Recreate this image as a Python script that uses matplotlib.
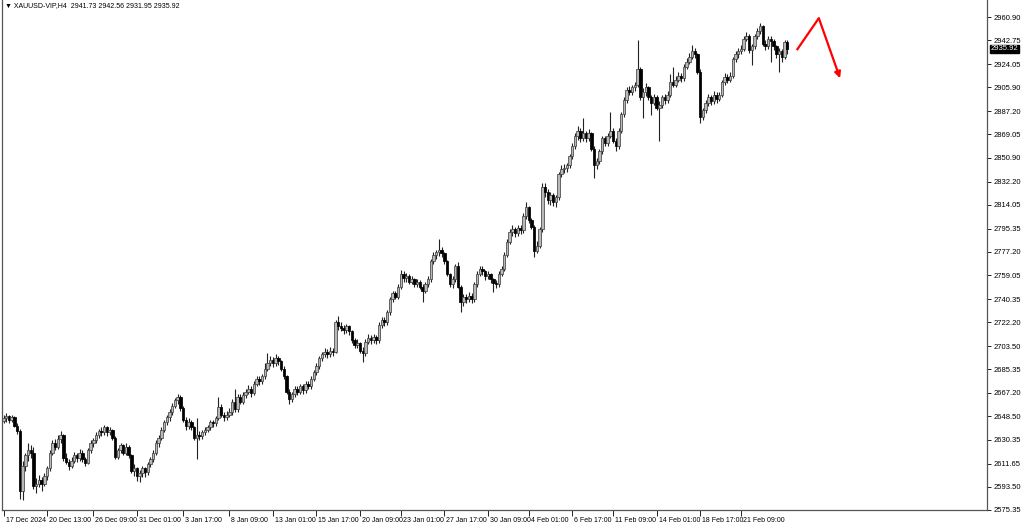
import matplotlib
matplotlib.use("Agg")
import matplotlib.pyplot as plt
import matplotlib.transforms as mtransforms

# XAUUSD H4 candles
opens = [
    2645, 2647, 2649, 2646, 2648, 2641, 2637, 2590, 2610, 2618,
    2622, 2620, 2594, 2596, 2599, 2596, 2602, 2608, 2620, 2628,
    2625, 2631, 2634, 2616, 2613, 2610, 2614, 2618, 2616, 2620,
    2615, 2612, 2622, 2628, 2630, 2634, 2637, 2636, 2640, 2636,
    2638, 2632, 2617, 2622, 2626, 2620, 2625, 2618, 2606, 2608,
    2602, 2604, 2608, 2605, 2611, 2615, 2620, 2628, 2632, 2638,
    2644, 2648, 2652, 2657, 2661, 2664, 2655, 2646, 2641, 2644,
    2640, 2632, 2634, 2633, 2636, 2638, 2640, 2644, 2643, 2647,
    2656, 2650, 2648, 2650, 2652, 2660, 2654, 2664, 2660, 2665,
    2668, 2670, 2667, 2674, 2678, 2676, 2680, 2686, 2690, 2693,
    2690, 2694, 2692, 2686, 2680, 2668, 2662, 2666, 2670, 2668,
    2672, 2669, 2674, 2672, 2678, 2683, 2688, 2694, 2697, 2699,
    2697, 2700, 2699, 2722, 2719, 2718, 2716, 2719, 2715, 2708,
    2704, 2706, 2700, 2698, 2707, 2710, 2708, 2711, 2708, 2720,
    2724, 2722, 2730, 2740, 2745, 2742, 2750, 2760, 2757, 2758,
    2754, 2756, 2752, 2754, 2750, 2747, 2752, 2756, 2770, 2775,
    2777, 2779, 2776, 2770, 2760, 2752, 2756, 2766, 2750, 2738,
    2742, 2740, 2743, 2740, 2752, 2760, 2764, 2762, 2758, 2760,
    2756, 2753, 2752, 2760, 2764, 2775, 2785, 2793, 2795, 2792,
    2796, 2794, 2805, 2812, 2802, 2797, 2778, 2782, 2795, 2828,
    2824, 2818, 2822, 2816, 2820, 2838, 2842, 2843, 2845, 2852,
    2860, 2868, 2872, 2866, 2870, 2866, 2870, 2858, 2845, 2848,
    2856, 2866, 2862, 2868, 2872, 2864, 2860, 2872, 2885, 2896,
    2904, 2902, 2906, 2908, 2920, 2898, 2902, 2906, 2898, 2894,
    2898, 2890, 2892, 2898, 2896, 2900, 2910, 2908, 2912, 2915,
    2913, 2922, 2926, 2930, 2934, 2932, 2918, 2883, 2888, 2894,
    2898, 2895, 2900, 2897, 2900, 2910, 2914, 2912, 2915, 2928,
    2932, 2934, 2936, 2944, 2946, 2935, 2938, 2946, 2950, 2954,
    2940, 2938, 2944, 2942, 2938, 2932, 2934, 2930, 2941.73,
]
highs = [
    2650, 2651, 2650, 2650, 2649, 2643, 2639, 2614, 2620, 2628,
    2626, 2625, 2600, 2603, 2601, 2604, 2610, 2622, 2630, 2631,
    2634, 2637, 2635, 2620, 2615, 2617, 2621, 2620, 2623, 2622,
    2617, 2624, 2630, 2632, 2636, 2639, 2640, 2642, 2641, 2640,
    2639, 2633, 2624, 2628, 2627, 2628, 2626, 2619, 2611, 2609,
    2607, 2610, 2609, 2613, 2617, 2622, 2630, 2634, 2640, 2646,
    2650, 2654, 2659, 2663, 2666, 2665, 2657, 2648, 2647, 2646,
    2641, 2647, 2637, 2638, 2640, 2642, 2646, 2646, 2649, 2664,
    2658, 2652, 2653, 2655, 2662, 2670, 2666, 2666, 2668, 2670,
    2673, 2672, 2676, 2680, 2680, 2682, 2690, 2698, 2696, 2695,
    2697, 2696, 2693, 2688, 2681, 2670, 2668, 2672, 2672, 2674,
    2674, 2676, 2676, 2680, 2685, 2690, 2696, 2699, 2702, 2701,
    2703, 2702, 2724, 2727, 2722, 2720, 2721, 2720, 2716, 2710,
    2709, 2707, 2703, 2709, 2713, 2712, 2713, 2712, 2722, 2726,
    2726, 2732, 2742, 2747, 2747, 2752, 2763, 2762, 2761, 2760,
    2758, 2757, 2756, 2755, 2752, 2754, 2758, 2772, 2777, 2779,
    2787, 2781, 2777, 2771, 2761, 2758, 2768, 2769, 2751, 2744,
    2744, 2746, 2745, 2754, 2762, 2766, 2766, 2763, 2762, 2761,
    2757, 2755, 2762, 2766, 2777, 2787, 2795, 2798, 2797, 2798,
    2798, 2808, 2816, 2813, 2804, 2798, 2786, 2797, 2831, 2831,
    2826, 2824, 2823, 2822, 2840, 2845, 2846, 2847, 2854, 2862,
    2870, 2876, 2874, 2882, 2872, 2873, 2871, 2860, 2851, 2858,
    2868, 2868, 2870, 2887, 2874, 2866, 2874, 2887, 2898, 2906,
    2907, 2908, 2910, 2943, 2922, 2905, 2909, 2907, 2900, 2901,
    2900, 2895, 2900, 2901, 2903, 2916, 2922, 2915, 2918, 2917,
    2924, 2929, 2933, 2939, 2937, 2933, 2920, 2890, 2896, 2901,
    2900, 2903, 2902, 2902, 2912, 2917, 2916, 2918, 2930, 2934,
    2937, 2939, 2946, 2949, 2948, 2940, 2948, 2952, 2956, 2955,
    2943, 2946, 2946, 2944, 2939, 2937, 2936, 2943, 2942.56,
]
lows = [
    2643, 2644, 2643, 2644, 2640, 2635, 2584, 2583, 2606, 2614,
    2616, 2592, 2589, 2593, 2590, 2594, 2599, 2606, 2618, 2622,
    2623, 2628, 2614, 2611, 2607, 2608, 2612, 2613, 2614, 2613,
    2610, 2611, 2620, 2625, 2628, 2632, 2633, 2634, 2633, 2634,
    2630, 2615, 2615, 2620, 2618, 2618, 2616, 2604, 2602, 2598,
    2597, 2601, 2601, 2603, 2609, 2613, 2618, 2625, 2630, 2636,
    2642, 2645, 2650, 2655, 2658, 2653, 2644, 2638, 2639, 2638,
    2630, 2615, 2630, 2631, 2634, 2636, 2638, 2640, 2641, 2646,
    2648, 2645, 2646, 2648, 2650, 2652, 2652, 2658, 2658, 2663,
    2666, 2664, 2665, 2672, 2673, 2674, 2678, 2684, 2688, 2687,
    2688, 2689, 2684, 2678, 2666, 2658, 2660, 2664, 2665, 2666,
    2666, 2667, 2670, 2670, 2676, 2681, 2686, 2692, 2695, 2694,
    2695, 2696, 2698, 2716, 2715, 2713, 2714, 2712, 2706, 2702,
    2702, 2698, 2691, 2696, 2705, 2705, 2706, 2705, 2706, 2718,
    2719, 2720, 2728, 2738, 2740, 2740, 2748, 2754, 2754, 2752,
    2752, 2750, 2750, 2748, 2738, 2745, 2750, 2754, 2768, 2772,
    2774, 2773, 2768, 2758, 2750, 2749, 2754, 2749, 2730, 2735,
    2737, 2738, 2737, 2738, 2750, 2758, 2759, 2755, 2756, 2753,
    2746, 2749, 2750, 2758, 2762, 2773, 2783, 2790, 2789, 2790,
    2791, 2792, 2803, 2800, 2795, 2773, 2776, 2780, 2793, 2820,
    2815, 2814, 2813, 2812, 2818, 2836, 2839, 2840, 2843, 2850,
    2858, 2865, 2863, 2864, 2863, 2864, 2856, 2835, 2842, 2846,
    2854, 2860, 2860, 2866, 2862, 2856, 2858, 2870, 2883, 2894,
    2900, 2900, 2903, 2906, 2896, 2882, 2899, 2896, 2884, 2892,
    2888, 2864, 2890, 2893, 2894, 2898, 2906, 2906, 2910, 2910,
    2911, 2920, 2924, 2928, 2929, 2916, 2878, 2880, 2886, 2891,
    2892, 2893, 2894, 2895, 2898, 2908, 2909, 2910, 2913, 2926,
    2929, 2932, 2934, 2942, 2933, 2923, 2936, 2944, 2948, 2938,
    2935, 2936, 2926, 2935, 2929, 2918, 2926, 2928, 2931.95,
]
closes = [
    2647, 2649, 2646, 2648, 2641, 2637, 2590, 2610, 2618, 2622,
    2620, 2594, 2596, 2599, 2596, 2602, 2608, 2620, 2628, 2625,
    2631, 2634, 2616, 2613, 2610, 2614, 2618, 2616, 2620, 2615,
    2612, 2622, 2628, 2630, 2634, 2637, 2636, 2640, 2636, 2638,
    2632, 2617, 2622, 2626, 2620, 2625, 2618, 2606, 2608, 2602,
    2604, 2608, 2605, 2611, 2615, 2620, 2628, 2632, 2638, 2644,
    2648, 2652, 2657, 2661, 2664, 2655, 2646, 2641, 2644, 2640,
    2632, 2634, 2633, 2636, 2638, 2640, 2644, 2643, 2647, 2656,
    2650, 2648, 2650, 2652, 2660, 2654, 2664, 2660, 2665, 2668,
    2670, 2667, 2674, 2678, 2676, 2680, 2686, 2690, 2693, 2690,
    2694, 2692, 2686, 2680, 2668, 2662, 2666, 2670, 2668, 2672,
    2669, 2674, 2672, 2678, 2683, 2688, 2694, 2697, 2699, 2697,
    2700, 2699, 2722, 2719, 2718, 2716, 2719, 2715, 2708, 2704,
    2706, 2700, 2698, 2707, 2710, 2708, 2711, 2708, 2720, 2724,
    2722, 2730, 2740, 2745, 2742, 2750, 2760, 2757, 2758, 2754,
    2756, 2752, 2754, 2750, 2747, 2752, 2756, 2770, 2775, 2777,
    2779, 2776, 2770, 2760, 2752, 2756, 2766, 2750, 2738, 2742,
    2740, 2743, 2740, 2752, 2760, 2764, 2762, 2758, 2760, 2756,
    2753, 2752, 2760, 2764, 2775, 2785, 2793, 2795, 2792, 2796,
    2794, 2805, 2812, 2802, 2797, 2778, 2782, 2795, 2828, 2824,
    2818, 2822, 2816, 2820, 2838, 2842, 2843, 2845, 2852, 2860,
    2868, 2872, 2866, 2870, 2866, 2870, 2858, 2845, 2848, 2856,
    2866, 2862, 2868, 2872, 2864, 2860, 2872, 2885, 2896, 2904,
    2902, 2906, 2908, 2920, 2898, 2902, 2906, 2898, 2894, 2898,
    2890, 2892, 2898, 2896, 2900, 2910, 2908, 2912, 2915, 2913,
    2922, 2926, 2930, 2934, 2932, 2918, 2883, 2888, 2894, 2898,
    2895, 2900, 2897, 2900, 2910, 2914, 2912, 2915, 2928, 2932,
    2934, 2936, 2944, 2946, 2935, 2938, 2946, 2950, 2954, 2940,
    2938, 2944, 2942, 2938, 2932, 2934, 2930, 2941.73, 2935.92,
]

price_ticks = [2960.90, 2942.75, 2924.05, 2905.90, 2887.20, 2869.05, 2850.90,
               2832.20, 2814.05, 2795.35, 2777.20, 2759.05, 2740.35, 2722.20,
               2703.50, 2685.35, 2667.20, 2648.50, 2630.35, 2611.65, 2593.50,
               2575.35]
time_ticks = [0, 16, 33, 49, 66, 83, 99, 115, 131, 146, 162, 178, 193, 209,
              224, 240, 256, 271]
time_labels = ["17 Dec 2024", "20 Dec 13:00", "26 Dec 09:00", "31 Dec 01:00",
               "3 Jan 17:00", "8 Jan 09:00", "13 Jan 01:00", "15 Jan 17:00",
               "20 Jan 09:00", "23 Jan 01:00", "27 Jan 17:00", "30 Jan 09:00",
               "4 Feb 01:00", "6 Feb 17:00", "11 Feb 09:00", "14 Feb 01:00",
               "18 Feb 17:00", "21 Feb 09:00"]

# hand-drawn red arrow (bar index, price)
arrow_x = [291.5, 299.6, 307.4]
arrow_y = [2935.0, 2960.0, 2913.0]

plt.rcParams["font.family"] = ["Liberation Sans", "DejaVu Sans"]

fig = plt.figure(figsize=(10.24, 5.28), dpi=100)
ax = fig.add_axes([1.5 / 1024, 18 / 528, (987 - 1.5) / 1024, 1 - 18 / 528])

idx = list(range(len(closes)))
up = [c >= o for o, c in zip(opens, closes)]

ax.vlines(idx, lows, highs, color="#222222", linewidth=0.8, zorder=1)
bottoms = [min(o, c) for o, c in zip(opens, closes)]
heights = [max(abs(c - o), 0.4) for o, c in zip(opens, closes)]
faces = ["#b8b8b8" if u else "black" for u in up]
edges = ["#444444" if u else "black" for u in up]
ax.bar(idx, heights, bottom=bottoms, width=0.9, color=faces,
       edgecolor=edges, linewidth=0.55, zorder=2)

# arrow
ax.plot(arrow_x[:2], arrow_y[:2], color="#ff0000", linewidth=1.6,
        solid_capstyle="butt", zorder=3)
ax.annotate("", xy=(arrow_x[2], arrow_y[2]), xytext=(arrow_x[1], arrow_y[1]),
            arrowprops=dict(arrowstyle="-|>", color="#ff0000", lw=1.6,
                            mutation_scale=9, shrinkA=0, shrinkB=0), zorder=3)

ax.set_xlim(-0.74, 361.4)
ax.set_ylim(2575.7, 2974.2)

ax.spines["top"].set_visible(False)
for s in ["left", "right", "bottom"]:
    ax.spines[s].set_color("#555555")
    ax.spines[s].set_linewidth(0.9)

ax.yaxis.tick_right()
ax.set_yticks(price_ticks)
ax.set_yticklabels([f"{p:.2f}" for p in price_ticks])
ax.tick_params(axis="y", direction="out", length=3, width=0.6, pad=2,
               labelsize=5.5, colors="black")

ax.set_xticks(time_ticks)
ax.set_xticklabels(time_labels)
ax.tick_params(axis="x", direction="out", length=4, width=0.6, pad=1,
               labelsize=5, colors="black")
offset = mtransforms.ScaledTranslation(2 / 100, 0, fig.dpi_scale_trans)
for lab in ax.get_xticklabels():
    lab.set_horizontalalignment("left")
    lab.set_transform(lab.get_transform() + offset)

# current price box
trans = mtransforms.blended_transform_factory(ax.transAxes, ax.transData)
ax.text(1.004, closes[-1], f"{closes[-1]:.2f}", transform=trans,
        fontsize=5.5, color="white", va="center", ha="left",
        bbox=dict(boxstyle="square,pad=0.12", fc="black", ec="black"),
        zorder=5, clip_on=False)

fig.text(5 / 1024, 1 - 6 / 528,
         "\u25BC XAUUSD-VIP,H4  2941.73 2942.56 2931.95 2935.92",
         fontsize=5, va="center", ha="left", color="black")

fig.savefig("out.png", dpi=100, facecolor="white")
